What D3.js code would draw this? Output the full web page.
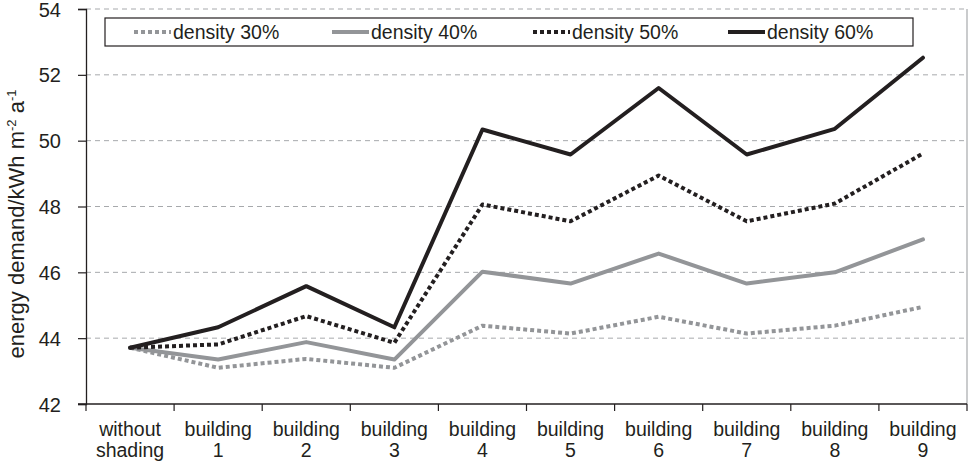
<!DOCTYPE html>
<html><head><meta charset="utf-8">
<script src="https://cdn.jsdelivr.net/npm/d3@7/dist/d3.min.js"></script>
<style>body{margin:0;background:#fff}svg{display:block}text{font-family:"Liberation Sans",Arial,sans-serif;fill:#231f20}</style>
</head><body>
<svg id="c" width="971" height="466"></svg>
<script>
const categories = [["without","shading"],["building","1"],["building","2"],["building","3"],["building","4"],["building","5"],["building","6"],["building","7"],["building","8"],["building","9"]];
const density30 = [43.71, 43.10, 43.37, 43.10, 44.38, 44.14, 44.65, 44.14, 44.38, 44.95];
const density40 = [43.71, 43.35, 43.88, 43.35, 46.02, 45.66, 46.57, 45.66, 46.00, 47.00];
const density50 = [43.71, 43.81, 44.67, 43.86, 48.06, 47.55, 48.94, 47.55, 48.09, 49.61];
const density60 = [43.71, 44.33, 45.58, 44.33, 50.34, 49.58, 51.60, 49.58, 50.36, 52.52];
const seriesNames = ["density 30%","density 40%","density 50%","density 60%"];
const yTicks = [42,44,46,48,50,52,54];

const series = [
  {name: seriesNames[0], values: density30, color:"#939598", dash:"4,3"},
  {name: seriesNames[1], values: density40, color:"#939598", dash:null},
  {name: seriesNames[2], values: density50, color:"#231f20", dash:"4,3"},
  {name: seriesNames[3], values: density60, color:"#231f20", dash:null}
];

const svg = d3.select("#c");
const L = 86, R = 967, T = 9, B = 404;
const x = d3.scaleBand().domain(d3.range(categories.length)).range([L, R]);
const y = d3.scaleLinear().domain([42, 54]).range([B, T]);

// gridlines
svg.append("g").selectAll("line").data(yTicks.filter(d => d > 42)).join("line")
  .attr("x1", L).attr("x2", R).attr("y1", d => y(d)).attr("y2", d => y(d))
  .attr("stroke", "#a7a9ac").attr("stroke-width", 1).attr("stroke-dasharray", "5,4");
// right border
svg.append("line").attr("x1", R).attr("x2", R).attr("y1", T).attr("y2", B)
  .attr("stroke", "#a7a9ac").attr("stroke-width", 1.2);

// y axis
const yAxis = svg.append("g").attr("transform", `translate(${L},0)`)
  .call(d3.axisLeft(y).tickValues(yTicks).tickSize(8).tickPadding(17).tickFormat(d3.format("d")));
yAxis.select(".domain").attr("stroke", "#231f20").attr("stroke-width", 1.3);
yAxis.selectAll(".tick line").attr("stroke", "#231f20").attr("stroke-width", 1.2);
yAxis.selectAll("text").style("font-size", "20px").attr("fill", "#231f20").attr("dy", "0.35em");

// x axis (ticks at band boundaries)
const bounds = d3.range(categories.length + 1).map(i => L + i * x.bandwidth());
svg.append("line").attr("x1", L - 8).attr("x2", R).attr("y1", B).attr("y2", B)
  .attr("stroke", "#231f20").attr("stroke-width", 1.3);
svg.append("g").selectAll("line").data(bounds).join("line")
  .attr("x1", d => d).attr("x2", d => d).attr("y1", B).attr("y2", B + 7)
  .attr("stroke", "#231f20").attr("stroke-width", 1.2);
const xl = svg.append("g").selectAll("text").data(categories).join("text")
  .attr("text-anchor", "middle").style("font-size", "19.5px")
  .attr("x", (d, i) => x(i) + x.bandwidth() / 2).attr("y", 436);
xl.append("tspan").text(d => d[0]).attr("x", (d, i) => x(i) + x.bandwidth() / 2).attr("dy", 0);
xl.append("tspan").text(d => d[1]).attr("x", (d, i) => x(i) + x.bandwidth() / 2).attr("dy", 21);

// y title
const yt = svg.append("text").attr("transform", `translate(24,224) rotate(-90)`)
  .attr("text-anchor", "middle").style("font-size", "22px");
yt.append("tspan").text("energy demand/kWh m");
yt.append("tspan").text("-2").attr("dy", -8).style("font-size", "13px");
yt.append("tspan").text(" a").attr("dy", 8);
yt.append("tspan").text("-1").attr("dy", -8).style("font-size", "13px");

// lines
const line = d3.line().x((d, i) => x(i) + x.bandwidth() / 2).y(d => y(d));
svg.append("g").selectAll("path").data(series).join("path")
  .attr("d", d => line(d.values)).attr("fill", "none")
  .attr("stroke", d => d.color).attr("stroke-width", 4)
  .attr("stroke-dasharray", d => d.dash).attr("stroke-linejoin", "round")
  .attr("stroke-linecap", d => d.dash ? "butt" : "round");

// legend
svg.append("rect").attr("x", 105).attr("y", 18).attr("width", 808).attr("height", 28)
  .attr("fill", "#fff").attr("stroke", "#231f20").attr("stroke-width", 1.2);
const legX = [134, 332, 533, 728];
const lg = svg.append("g").selectAll("g").data(series).join("g")
  .attr("transform", (d, i) => `translate(${legX[i]},32)`);
lg.append("line").attr("x1", 0).attr("x2", 37).attr("y1", 0).attr("y2", 0)
  .attr("stroke", d => d.color).attr("stroke-width", 4).attr("stroke-dasharray", d => d.dash);
lg.append("text").attr("x", 39).attr("y", 7).style("font-size", "19.5px").text(d => d.name);
</script>
</body></html>
